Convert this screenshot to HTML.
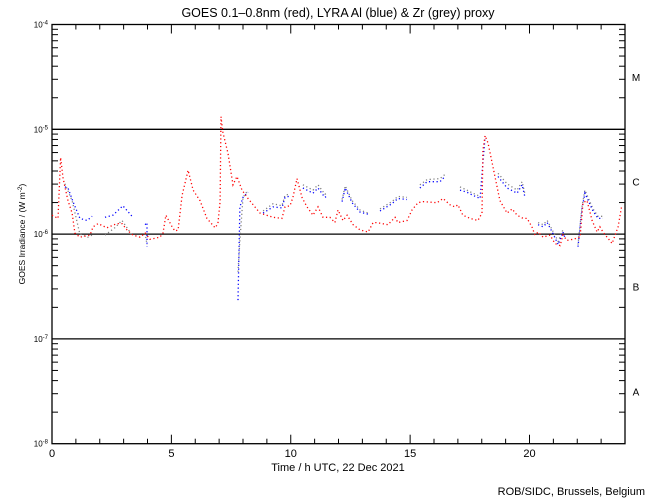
<!DOCTYPE html>
<html><head><meta charset="utf-8"><style>
body{margin:0;background:#fff}
svg{display:block;font-family:"Liberation Sans",sans-serif}
</style></head><body>
<svg id="chart" width="650" height="500" viewBox="0 0 650 500">
<rect width="650" height="500" fill="#fff"/>
<text x="338" y="17" font-size="12.5" text-anchor="middle">GOES 0.1–0.8nm (red), LYRA Al (blue) &amp; Zr (grey) proxy</text>
<text transform="translate(25,234) rotate(-90)" font-size="8.5" text-anchor="middle">GOES Irradiance / (W m<tspan dy="-3" font-size="6.5">-2</tspan><tspan dy="3">)</tspan></text>
<text x="338" y="471" font-size="11" text-anchor="middle">Time / h UTC, 22 Dec 2021</text>
<text x="645" y="495" font-size="11" text-anchor="end">ROB/SIDC, Brussels, Belgium</text>
<g id="axes"></g>
<g id="series"></g>
</svg>
<script>
const hoursRed=[0,0.25,0.36,0.46,0.54,0.67,0.84,0.96,1.17,1.59,1.72,1.93,2.30,2.72,2.93,3.14,3.39,3.69,3.90,4.10,4.52,4.65,4.77,5.03,5.15,5.28,5.45,5.70,5.91,6.20,6.49,6.83,6.95,7.04,7.08,7.16,7.37,7.58,7.75,7.96,8.21,8.71,9.26,9.63,9.76,9.97,10.09,10.26,10.47,10.68,10.93,11.14,11.35,11.64,11.85,11.98,12.19,12.36,12.61,12.90,13.24,13.45,13.61,14.07,14.37,14.49,14.87,15.08,15.33,15.54,16.13,16.38,16.67,16.88,17.00,17.21,17.51,17.84,18.01,18.05,18.14,18.26,18.47,18.76,19.06,19.27,19.48,19.73,19.90,20.10,20.23,20.36,20.57,20.86,21.07,21.28,21.40,21.57,21.82,22.12,22.24,22.41,22.62,22.83,22.95,23.08,23.25,23.46,23.71,23.87,23.92];
const logRed=[-5.82,-5.85,-5.27,-5.46,-5.55,-5.68,-5.80,-5.99,-6.03,-6.01,-5.93,-5.90,-5.94,-5.90,-5.90,-5.96,-6.01,-6.03,-5.99,-6.05,-6.03,-5.99,-5.82,-5.93,-5.97,-5.96,-5.63,-5.39,-5.58,-5.68,-5.85,-5.94,-5.90,-5.69,-4.88,-5.03,-5.23,-5.53,-5.45,-5.58,-5.66,-5.80,-5.84,-5.85,-5.74,-5.73,-5.65,-5.47,-5.65,-5.74,-5.82,-5.74,-5.84,-5.84,-5.89,-5.77,-5.87,-5.82,-5.91,-5.96,-5.98,-5.89,-5.89,-5.91,-5.84,-5.89,-5.87,-5.77,-5.70,-5.69,-5.70,-5.66,-5.72,-5.74,-5.72,-5.82,-5.85,-5.87,-5.80,-5.20,-5.06,-5.13,-5.36,-5.68,-5.80,-5.76,-5.82,-5.85,-5.85,-5.93,-6.01,-5.98,-6.03,-6.01,-6.09,-6.11,-6.01,-6.06,-6.05,-6.03,-5.70,-5.68,-5.87,-5.98,-5.93,-5.98,-6.03,-6.09,-5.93,-5.72];
const hoursBlue=[0.54,0.67,0.88,1.17,1.47,1.68,null,2.22,2.55,2.97,3.35,null,3.90,3.98,3.98,null,7.79,7.87,8.00,8.21,null,8.84,9.26,9.63,9.76,9.92,null,10.51,10.93,11.14,11.43,11.56,null,12.15,12.28,12.57,12.90,13.24,null,13.74,14.24,14.49,14.87,null,15.41,15.71,16.25,16.46,null,17.09,17.38,17.63,17.93,18.05,18.14,null,18.68,19.06,19.48,19.69,19.81,null,20.36,20.57,20.74,20.95,21.20,21.40,21.48,null,22.03,22.20,22.32,22.66,22.87,23.08];
const logBlue=[-5.55,-5.56,-5.69,-5.85,-5.87,-5.83,null,-5.84,-5.82,-5.73,-5.83,null,-5.91,-5.89,-6.12,null,-6.63,-5.74,-5.65,-5.60,null,-5.80,-5.74,-5.75,-5.65,-5.64,null,-5.56,-5.61,-5.56,-5.65,-5.63,null,-5.69,-5.56,-5.70,-5.79,-5.81,null,-5.78,-5.71,-5.66,-5.67,null,-5.56,-5.50,-5.50,-5.45,null,-5.58,-5.60,-5.63,-5.66,-5.32,-5.07,null,-5.45,-5.56,-5.61,-5.53,-5.65,null,-5.91,-5.93,-5.89,-5.98,-6.10,-5.98,-6.03,null,-6.12,-5.76,-5.61,-5.78,-5.85,-5.85];
const hoursGrey=[0.54,0.84,1.17,1.50,1.68,null,2.22,2.63,2.93,3.14,3.35,null,3.90,3.98,null,7.79,7.87,8.00,8.21,null,8.84,9.26,9.63,9.76,9.92,null,10.51,10.93,11.14,11.43,11.56,null,12.15,12.28,12.57,12.90,13.24,null,13.74,14.24,14.49,14.87,null,15.41,15.71,16.25,16.46,null,17.09,17.38,17.63,17.93,null,18.68,19.06,19.48,19.69,19.81,null,20.36,20.57,20.74,20.95,21.20,21.40,null,22.03,22.20,22.32,22.66,22.87,23.08];
const logGrey=[-5.52,-5.68,-6.00,-6.03,-6.01,null,-6.01,-5.94,-5.87,-5.94,-6.01,null,-5.99,-6.10,null,-6.36,-6.06,-5.65,-5.58,null,-5.78,-5.71,-5.73,-5.63,-5.62,null,-5.53,-5.58,-5.53,-5.62,-5.60,null,-5.67,-5.54,-5.68,-5.77,-5.80,null,-5.76,-5.69,-5.64,-5.65,null,-5.53,-5.48,-5.47,-5.43,null,-5.55,-5.58,-5.61,-5.64,null,-5.42,-5.52,-5.58,-5.50,-5.62,null,-5.89,-5.91,-5.87,-5.96,-6.07,-5.96,null,-6.10,-5.74,-5.58,-5.76,-5.83,-5.83];
const xTicks=[0,5,10,15,20];
const yTickExp=[-4,-5,-6,-7,-8];
const classLabels=["M","C","B","A"];

const X0=52,X1=625,Y0=24.5,DEC=104.8;
const NS="http://www.w3.org/2000/svg";
const xs=h=>X0+(X1-X0)*h/24;
const ys=l=>Y0+(-4-l)*DEC;
const axes=document.getElementById('axes');
const ser=document.getElementById('series');
function mk(tag,attrs,parent){const e=document.createElementNS(NS,tag);for(const k in attrs)e.setAttribute(k,attrs[k]);parent.appendChild(e);return e;}

let f=mk('rect',{x:X0,y:Y0,width:X1-X0,height:4*DEC,fill:'none',stroke:'#000','stroke-width':1.3},axes);


for(let l=-5;l>=-7;l--){
  const g=mk('line',{x1:X0,x2:X1,y1:ys(l),y2:ys(l),stroke:'#000','stroke-width':1.3},axes);
  
  
}
for(let h=1;h<24;h++){
  const len=h%5===0?9:5;
  mk('line',{x1:xs(h),x2:xs(h),y1:Y0+4*DEC,y2:Y0+4*DEC-len,stroke:'#000'},axes);
  mk('line',{x1:xs(h),x2:xs(h),y1:Y0,y2:Y0+len,stroke:'#000'},axes);
}
xTicks.forEach(t=>{
  const e=mk('text',{x:xs(t),y:457,'font-size':11,'text-anchor':'middle'},axes);
  e.textContent=t;
  
  
});
for(let d=-8;d<-4;d++){
  for(let m=2;m<=9;m++){
    const y=ys(d+Math.log10(m));
    mk('line',{x1:X0,x2:X0+6,y1:y,y2:y,stroke:'#000'},axes);
    mk('line',{x1:X1,x2:X1-6,y1:y,y2:y,stroke:'#000'},axes);
  }
}
yTickExp.forEach(d=>{
  const e=mk('text',{x:48,y:ys(d)+3,'font-size':8,'text-anchor':'end'},axes);
  e.innerHTML='10<tspan dy="-3" font-size="6">'+d+'</tspan>';
  
  
});
classLabels.forEach((c,i)=>{
  const e=mk('text',{x:636,y:ys(-4.5-i)+4,'font-size':10,'text-anchor':'middle'},axes);
  e.textContent=c;
  
  
});
function draw(hs,ls,color,name){
  let d='';let pen=false;
  for(let i=0;i<hs.length;i++){
    if(hs[i]===null){pen=false;continue;}
    d+=(pen?'L':'M')+xs(hs[i]).toFixed(1)+' '+ys(ls[i]).toFixed(1);pen=true;
  }
  const p=mk('path',{d:d,fill:'none',stroke:color,'stroke-width':1.3,'stroke-dasharray':'1.2 2.6'},ser);
  
  
}
draw(hoursGrey,logGrey,'#808080','zr-proxy-series');
draw(hoursBlue,logBlue,'#0000ff','al-proxy-series');
draw(hoursRed,logRed,'#ff0000','goes-series');
</script>
</body></html>
